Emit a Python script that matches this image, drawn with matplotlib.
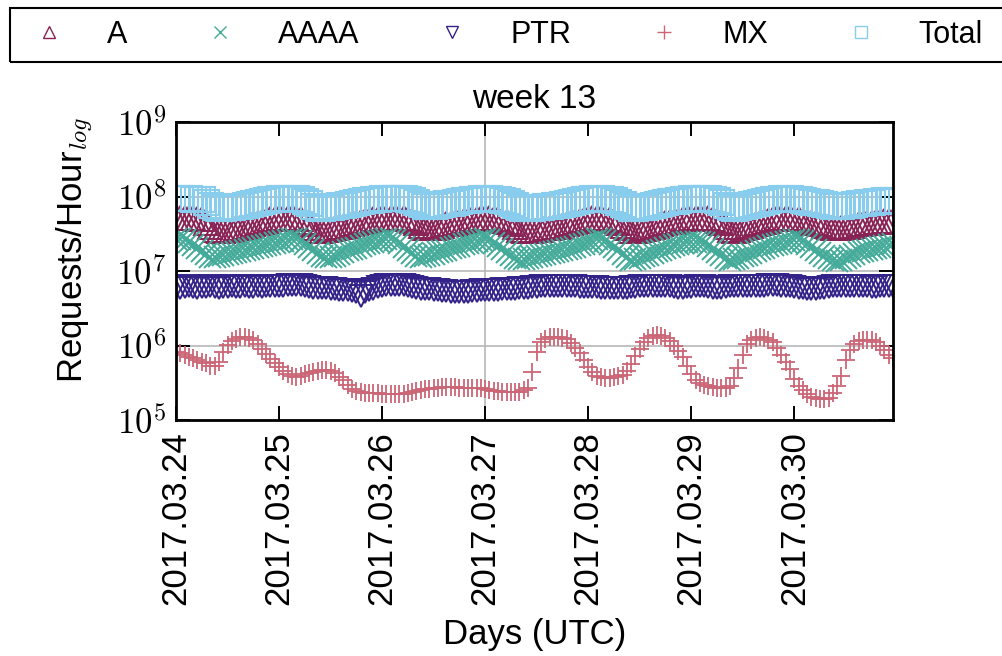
import numpy as np
import pandas as pd
import matplotlib
matplotlib.use('Agg')
import matplotlib.pyplot as plt
import matplotlib.dates as mdates
from matplotlib.ticker import FixedLocator, FuncFormatter, NullLocator
from matplotlib.lines import Line2D
from matplotlib.patches import Rectangle

plt.rcParams['font.family'] = ['Liberation Sans', 'DejaVu Sans']
plt.rcParams['mathtext.fontset'] = 'cm'

# ---------------- data (hourly, week 13 of 2017) ----------------
start_time = '2017-03-24 00:00'
n_hours = 168
series_names = ['A', 'AAAA', 'PTR', 'MX', 'Total']

# A requests per hour, in millions
a_millions = [
    51.5, 51.5, 51.5, 51.5, 50.7, 49.9, 49.9, 44.1, 39.0, 35.5, 34.4, 34.4,
    35.5, 35.5, 37.2, 37.2, 39.0, 40.2, 42.1, 44.1, 45.5, 47.6, 49.9, 49.9,
    51.5, 51.5, 51.5, 51.5, 51.5, 49.9, 45.5, 42.1, 37.2, 34.4, 34.4, 35.5,
    36.3, 37.2, 39.0, 39.0, 40.2, 42.1, 44.1, 45.5, 47.6, 47.6, 49.9, 49.9,
    51.5, 51.5, 51.5, 51.5, 51.5, 51.5, 49.9, 47.6, 44.1, 40.2, 37.2, 37.2,
    37.2, 39.0, 40.2, 42.1, 43.1, 44.1, 45.5, 46.5, 47.6, 49.9, 49.9, 51.5,
    51.5, 51.5, 49.9, 49.9, 47.6, 45.5, 42.1, 39.0, 35.5, 34.4, 34.4, 34.4,
    35.5, 35.5, 37.2, 37.2, 39.0, 39.0, 40.2, 42.1, 44.1, 45.5, 47.6, 48.7,
    49.9, 51.5, 51.5, 51.5, 49.9, 49.9, 47.6, 44.1, 40.2, 37.2, 34.4, 34.4,
    35.5, 36.3, 37.2, 39.0, 40.2, 42.1, 44.1, 45.5, 45.5, 47.6, 49.9, 49.9,
    51.5, 51.5, 51.5, 51.5, 51.5, 49.9, 47.6, 44.1, 39.0, 35.5, 34.4, 35.5,
    37.2, 39.0, 40.2, 42.1, 44.1, 45.5, 47.6, 49.9, 50.7, 51.5, 51.5, 51.5,
    49.9, 49.9, 47.6, 45.5, 44.1, 44.1, 42.1, 40.2, 39.0, 37.2, 37.2, 37.2,
    39.0, 39.0, 40.2, 42.1, 42.1, 44.1, 44.1, 45.5, 45.5, 47.6, 47.6, 47.6,
]

# AAAA requests per hour, in millions
aaaa_millions = [
    26.9, 26.9, 26.1, 24.5, 22.3, 20.4, 18.6, 16.9, 15.4, 15.4, 15.9, 16.4,
    16.9, 17.4, 18.0, 18.6, 19.1, 19.7, 20.4, 21.0, 21.7, 22.3, 23.0, 23.8,
    24.5, 25.3, 26.1, 26.9, 26.9, 25.3, 23.0, 21.0, 19.1, 17.4, 15.9, 15.4,
    15.4, 15.9, 16.9, 18.0, 19.1, 19.7, 20.4, 21.7, 23.0, 23.8, 24.5, 25.3,
    26.1, 26.9, 26.9, 26.1, 23.8, 21.0, 19.1, 17.4, 15.9, 15.4, 15.9, 16.4,
    16.9, 18.0, 18.6, 19.1, 20.4, 21.0, 21.7, 23.0, 23.8, 24.5, 25.3, 26.1,
    26.9, 26.1, 23.8, 21.7, 19.7, 18.0, 16.4, 14.9, 14.5, 14.5, 14.9, 15.4,
    15.9, 16.4, 16.9, 17.4, 18.0, 18.6, 19.1, 19.7, 20.4, 21.0, 22.3, 23.0,
    24.5, 25.3, 26.9, 26.9, 25.3, 23.0, 21.0, 19.1, 16.9, 15.4, 14.0, 14.5,
    14.9, 15.9, 16.4, 17.4, 18.6, 19.1, 20.4, 21.0, 22.3, 23.0, 23.8, 24.5,
    24.5, 24.5, 24.5, 23.8, 21.7, 19.7, 18.0, 16.4, 14.9, 14.0, 14.5, 14.9,
    15.9, 16.4, 17.4, 18.6, 19.7, 20.4, 21.7, 22.3, 23.0, 23.8, 24.5, 25.3,
    26.1, 26.1, 25.3, 23.0, 21.0, 19.1, 17.4, 15.9, 14.9, 14.0, 13.6, 14.0,
    14.9, 15.9, 16.9, 18.0, 18.6, 19.1, 19.7, 20.4, 21.0, 21.7, 22.3, 23.0,
]

# PTR requests per hour, in millions
ptr_millions = [
    6.1, 6.0, 6.1, 6.2, 6.1, 6.0, 6.1, 6.1, 6.2, 6.1, 6.0, 6.1,
    6.1, 6.2, 6.1, 6.1, 6.2, 6.1, 6.1, 6.2, 6.1, 6.2, 6.3, 6.2,
    6.3, 6.3, 6.4, 6.4, 6.5, 6.4, 6.3, 6.1, 6.0, 5.9, 5.9, 5.9,
    5.8, 5.7, 5.6, 5.5, 5.5, 5.4, 5.3, 4.6, 5.2, 5.5, 5.8, 6.1,
    6.3, 6.4, 6.5, 6.5, 6.5, 6.4, 6.3, 6.1, 5.9, 5.8, 5.7, 5.7,
    5.6, 5.5, 5.4, 5.4, 5.3, 5.3, 5.2, 5.3, 5.3, 5.4, 5.4, 5.5,
    5.5, 5.5, 5.6, 5.6, 5.7, 5.7, 5.8, 5.8, 5.9, 6.0, 6.0, 6.1,
    6.1, 6.2, 6.2, 6.3, 6.3, 6.3, 6.3, 6.2, 6.2, 6.2, 6.1, 6.1,
    6.1, 6.1, 6.1, 6.0, 6.0, 5.9, 5.9, 5.9, 6.0, 6.0, 6.1, 6.1,
    6.2, 6.2, 6.2, 6.2, 6.3, 6.3, 6.3, 6.2, 6.1, 6.0, 6.0, 6.1,
    6.1, 6.2, 6.2, 6.2, 6.1, 6.0, 6.0, 6.0, 6.1, 6.2, 6.3, 6.3,
    6.3, 6.3, 6.3, 6.3, 6.3, 6.3, 6.4, 6.4, 6.4, 6.3, 6.3, 6.2,
    6.1, 6.0, 5.9, 5.8, 5.7, 5.8, 5.9, 6.0, 6.1, 6.2, 6.2, 6.3,
    6.3, 6.3, 6.3, 6.2, 6.2, 6.2, 6.1, 6.1, 6.2, 6.2, 6.2, 6.3,
]

# MX requests per hour, in thousands
mx_thousands = [
    820, 790, 745, 700, 680, 640, 600, 580, 530, 530, 600, 820,
    1020, 1150, 1220, 1300, 1300, 1260, 1190, 1050, 900, 770, 660, 580,
    515, 455, 415, 390, 380, 390, 415, 430, 440, 455, 470, 470,
    455, 430, 380, 345, 295, 260, 245, 238, 230, 230, 230, 230,
    223, 223, 223, 223, 223, 223, 230, 238, 245, 253, 260, 260,
    269, 269, 277, 277, 277, 277, 269, 269, 269, 269, 269, 269,
    260, 253, 245, 245, 238, 238, 238, 238, 238, 253, 269, 440,
    820, 1110, 1220, 1300, 1300, 1300, 1260, 1220, 1080, 925, 790, 640,
    515, 440, 390, 380, 365, 365, 380, 390, 400, 455, 565, 720,
    900, 1110, 1260, 1340, 1380, 1340, 1260, 1150, 990, 845, 700, 530,
    415, 345, 315, 295, 286, 277, 269, 269, 269, 286, 365, 500,
    745, 1050, 1190, 1260, 1300, 1260, 1190, 1110, 925, 745, 600, 485,
    355, 286, 253, 223, 204, 197, 191, 191, 197, 230, 286, 390,
    640, 870, 1050, 1150, 1190, 1190, 1190, 1110, 990, 870, 745, 680,
]

# Total requests per hour, in millions
total_millions = [
    95.5, 95.5, 95.5, 95.5, 94.0, 92.6, 92.6, 84.4, 76.9, 72.3, 70.1, 70.1,
    72.3, 72.3, 74.5, 74.5, 76.9, 79.3, 81.8, 84.4, 87.0, 89.8, 92.6, 92.6,
    95.5, 95.5, 95.5, 95.5, 95.5, 92.6, 87.0, 81.8, 74.5, 70.1, 70.1, 72.3,
    73.4, 74.5, 76.9, 76.9, 79.3, 81.8, 84.4, 87.0, 89.8, 89.8, 92.6, 92.6,
    95.5, 95.5, 95.5, 95.5, 95.5, 95.5, 92.6, 89.8, 84.4, 79.3, 74.5, 74.5,
    74.5, 76.9, 79.3, 81.8, 83.0, 84.4, 87.0, 88.4, 89.8, 92.6, 92.6, 95.5,
    95.5, 95.5, 92.6, 92.6, 89.8, 87.0, 81.8, 76.9, 72.3, 70.1, 70.1, 70.1,
    72.3, 72.3, 74.5, 74.5, 76.9, 76.9, 79.3, 81.8, 84.4, 87.0, 89.8, 91.2,
    92.6, 95.5, 95.5, 95.5, 92.6, 92.6, 89.8, 84.4, 79.3, 74.5, 70.1, 70.1,
    72.3, 73.4, 74.5, 76.9, 79.3, 81.8, 84.4, 87.0, 87.0, 89.8, 92.6, 92.6,
    95.5, 95.5, 95.5, 95.5, 95.5, 92.6, 89.8, 84.4, 76.9, 72.3, 70.1, 72.3,
    74.5, 76.9, 79.3, 81.8, 84.4, 87.0, 89.8, 92.6, 94.0, 95.5, 95.5, 95.5,
    92.6, 92.6, 89.8, 87.0, 84.4, 84.4, 81.8, 79.3, 76.9, 74.5, 74.5, 74.5,
    76.9, 76.9, 79.3, 81.8, 81.8, 84.4, 84.4, 87.0, 87.0, 89.8, 89.8, 89.8,
]

y_tick_values = [1e5, 1e6, 1e7, 1e8, 1e9]
grid_day = '2017-03-27'

# ---------------- figure ----------------
times = pd.date_range(start_time, periods=n_hours, freq='h')
series_values = [
    np.array(a_millions) * 1e6,
    np.array(aaaa_millions) * 1e6,
    np.array(ptr_millions) * 1e6,
    np.array(mx_thousands) * 1e3,
    np.array(total_millions) * 1e6,
]
colors = ['#882255', '#44AA99', '#332288', '#CC6677', '#88CCEE']
markers = ['^', 'x', 'v', '+', 's']
plot_ms = [17, 16, 16, 13, 18]
plot_mew = [1.4, 1.4, 1.4, 1.3, 1.5]
legend_ms = [9, 9, 9, 10, 9]

fig = plt.figure(figsize=(10.03, 6.56), dpi=100)
ax = fig.add_axes([176 / 1003, 1 - 420 / 656, 717 / 1003, 298 / 656])

ax.axvline(pd.Timestamp(grid_day), color='#b8b8b8', lw=1.2, zorder=0)
for yv in y_tick_values[1:4]:
    ax.axhline(yv, color='#b8b8b8', lw=1.2, zorder=0)

for vals, c, m, ms, mew in zip(series_values, colors, markers, plot_ms, plot_mew):
    ax.plot(times, vals, linestyle='none', marker=m, markersize=ms,
            markerfacecolor='none', markeredgecolor=c, markeredgewidth=mew,
            zorder=2)

ax.set_yscale('log')
ax.set_ylim(1e5, 1e9)
ax.yaxis.set_major_locator(FixedLocator(y_tick_values))
ax.yaxis.set_minor_locator(NullLocator())
ax.yaxis.set_major_formatter(FuncFormatter(lambda v, p: r'$10^{%d}$' % round(np.log10(v))))

ax.set_xlim(times[0], times[-1])
ax.xaxis.set_major_locator(mdates.DayLocator())
ax.xaxis.set_minor_locator(NullLocator())
ax.xaxis.set_major_formatter(mdates.DateFormatter('%Y.%m.%d'))

ax.tick_params(axis='both', which='major', direction='in', length=10, width=1.4,
               top=True, right=True)
ax.tick_params(axis='x', labelsize=25, pad=8, labelrotation=90)
ax.tick_params(axis='y', labelsize=25, pad=7)
for sp in ax.spines.values():
    sp.set_linewidth(2.0)

ax.set_title('week 13', fontsize=24, pad=10)
ax.set_xlabel('Days (UTC)', fontsize=25)
ax.xaxis.set_label_coords(0.5, -0.665)
ax.set_ylabel(r'Requests/Hour$_{log}$', fontsize=25)
ax.yaxis.set_label_coords(-0.112, 0.57)

# legend
handles = [Line2D([], [], linestyle='none', marker=m, markersize=ms,
                  markerfacecolor='none', markeredgecolor=c, markeredgewidth=1.0)
           for m, c, ms in zip(markers, colors, legend_ms)]
fig.legend(handles, series_names, loc='center left', ncol=5,
           bbox_to_anchor=(21 / 1003, 1 - 35 / 656), frameon=False,
           fontsize=22, handlelength=1.0, handletextpad=1.4,
           columnspacing=2.54, borderaxespad=0.0)
fig.patches.append(Rectangle((10 / 1003, 1 - 62 / 656), 1.2, 54 / 656,
                             transform=fig.transFigure, fill=False,
                             edgecolor='black', lw=1.5))

fig.savefig('out.png', dpi=100)
